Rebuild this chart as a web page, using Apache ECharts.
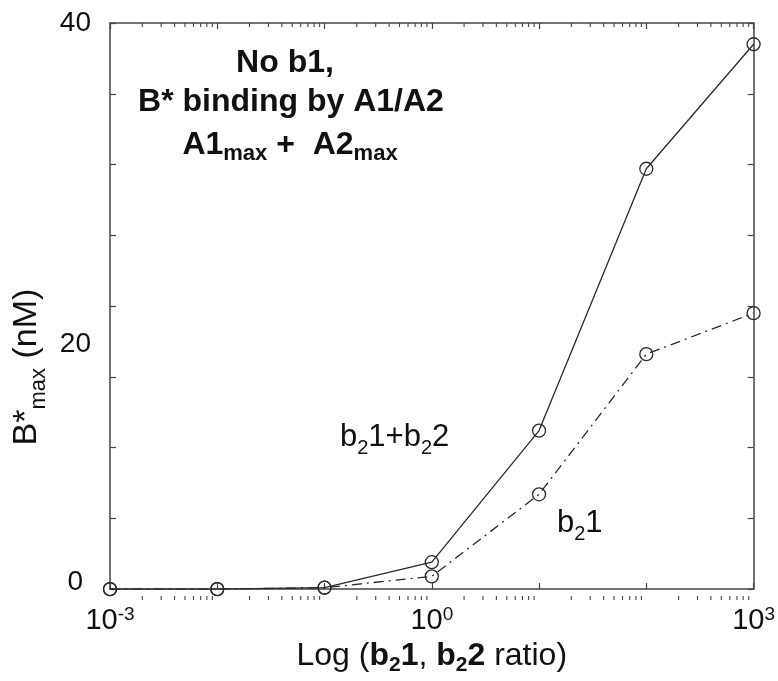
<!DOCTYPE html>
<html><head><meta charset="utf-8">
<script src="https://cdn.jsdelivr.net/npm/echarts@6/dist/echarts.min.js"></script>
<style>html,body{margin:0;padding:0;background:#fff}#c{width:778px;height:681px}</style>
</head><body><div id="c"></div>
<script>
const xValues = [0.001, 0.01, 0.1, 1, 10, 100, 1000];
const sumSeries = [0, 0, 0.1, 1.9, 11.2, 29.7, 38.5];    // b21+b22
const b21Series = [0, 0, 0.1, 0.9, 6.7, 16.6, 19.5];     // b21
const yLabelValues = [0, 20, 40];
const xLabelExponents = [-3, 0, 3];

(function(){
const FONT = '"Liberation Sans", Arial, sans-serif';
const chart = echarts.init(document.getElementById('c'), null, {renderer: 'canvas'});
const lineColor = '#2a2a2a';
const axisColor = '#444';

function pairs(ys){ return xValues.map((x,i)=>[x, ys[i]]); }

const baseX = {
  type: 'log', logBase: 10, min: 0.001, max: 1000, splitNumber: 6,
  axisLine: {show: true, onZero: false, lineStyle: {color: axisColor, width: 1.5}},
  axisTick: {show: true, inside: true, length: 6, lineStyle: {color: axisColor, width: 1.2}},
  splitLine: {show: false},
};
const baseY = {
  type: 'value', min: 0, max: 40, interval: 5,
  axisLine: {show: true, onZero: false, lineStyle: {color: axisColor, width: 1.5}},
  axisTick: {show: true, inside: true, length: 6, lineStyle: {color: axisColor, width: 1.2}},
  splitLine: {show: false},
};

const option = {
  backgroundColor: '#fff',
  animation: false,
  grid: {left: 110, right: 20, top: 23, bottom: 81, containLabel: false},
  xAxis: [
    Object.assign({}, baseX, {
      position: 'bottom',
      axisLabel: {
        show: true, margin: 16, fontFamily: FONT, color: '#111',
        formatter: v => {
          const e = Math.round(Math.log10(v));
          return xLabelExponents.includes(e) ? '{b|10}{s|' + e + '}' : '';
        },
        rich: {
          b: {fontSize: 29, fontFamily: FONT, color: '#111', lineHeight: 30, verticalAlign: 'bottom'},
          s: {fontSize: 19, fontFamily: FONT, color: '#111', lineHeight: 30, verticalAlign: 'top'}
        }
      },
      name: '{n|Log (}{bb|b}{sub|2}{bb|1}{n|, }{bb|b}{sub|2}{bb|2}{n| ratio)}',
      nameLocation: 'middle', nameGap: 64,
      nameTextStyle: {
        verticalAlign: 'middle',
        rich: {
          n: {fontSize: 32, fontFamily: FONT, color: '#111', lineHeight: 36, verticalAlign: 'top'},
          bb: {fontSize: 32, fontFamily: FONT, fontWeight: 'bold', color: '#111', lineHeight: 36, verticalAlign: 'top'},
          sub: {fontSize: 21, fontFamily: FONT, fontWeight: 'bold', color: '#111', lineHeight: 36, verticalAlign: 'bottom'}
        }
      }
    }),
    Object.assign({}, baseX, {position: 'top', axisLabel: {show: false}})
  ],
  yAxis: [
    Object.assign({}, baseY, {
      position: 'left',
      axisLabel: {
        show: true, margin: 19, fontSize: 28, fontFamily: FONT, color: '#111',
        formatter: v => {
          if (!yLabelValues.includes(v)) return '';
          if (v === 20) return '{low|20}';
          if (v === 0) return '{zero|0}';
          return String(v);
        },
        rich: {
          low: {fontSize: 28, fontFamily: FONT, color: '#111', padding: [76, 0, 0, 0]},
          zero: {fontSize: 28, fontFamily: FONT, color: '#111', padding: [0, 8, 14, 0]}
        }
      }
    }),
    Object.assign({}, baseY, {position: 'right', axisLabel: {show: false}})
  ],
  series: [
    {
      name: 'b21+b22', type: 'line', xAxisIndex: 0, yAxisIndex: 0,
      data: pairs(sumSeries),
      symbol: 'circle', symbolSize: 13,
      itemStyle: {color: 'rgba(0,0,0,0)', borderColor: lineColor, borderWidth: 1.3},
      lineStyle: {color: lineColor, width: 1.3, type: 'solid'},
      z: 3
    },
    {
      name: 'b21', type: 'line', xAxisIndex: 0, yAxisIndex: 0,
      data: pairs(b21Series),
      symbol: 'circle', symbolSize: 13,
      itemStyle: {color: 'rgba(0,0,0,0)', borderColor: lineColor, borderWidth: 1.3},
      lineStyle: {color: lineColor, width: 1.3, type: [10, 5, 2, 5]},
      z: 3
    }
  ]
};
chart.setOption(option);

const minorTicks = [];
const gTop = 23, gBottom = 681 - 81;
for (let e = -3; e < 3; e++) {
  for (let m = 2; m <= 9; m++) {
    const v = m * Math.pow(10, e);
    const px = chart.convertToPixel({xAxisIndex: 0}, v);
    minorTicks.push({type: 'line', shape: {x1: px, y1: gBottom, x2: px, y2: gBottom - 4},
      style: {stroke: axisColor, lineWidth: 1.1}, silent: true});
    minorTicks.push({type: 'line', shape: {x1: px, y1: gTop, x2: px, y2: gTop + 4},
      style: {stroke: axisColor, lineWidth: 1.1}, silent: true});
  }
}

const titleRich = {
  t: {fontSize: 32, fontWeight: 'bold', fontFamily: FONT, fill: '#111', lineHeight: 36, verticalAlign: 'top'},
  ts: {fontSize: 22, fontWeight: 'bold', fontFamily: FONT, fill: '#111', lineHeight: 36, verticalAlign: 'bottom'}
};
const annRich = {
  a: {fontSize: 31, fontFamily: FONT, fill: '#111', lineHeight: 36, verticalAlign: 'top'},
  as: {fontSize: 20, fontFamily: FONT, fill: '#111', lineHeight: 36, verticalAlign: 'bottom'}
};
const yTitleRich = {
  y: {fontSize: 34, fontFamily: FONT, fill: '#111', lineHeight: 40, verticalAlign: 'top'},
  ys: {fontSize: 22, fontFamily: FONT, fill: '#111', lineHeight: 40, verticalAlign: 'bottom'}
};

const annotations = [
  {type: 'text', x: 285, y: 65, z: 10, style: {text: '{t|No b1,}', rich: titleRich, align: 'center', verticalAlign: 'middle'}},
  {type: 'text', x: 291, y: 104, z: 10, style: {text: '{t|B* binding by A1/A2}', rich: titleRich, align: 'center', verticalAlign: 'middle'}},
  {type: 'text', x: 290, y: 147, z: 10, style: {text: '{t|A1}{ts|max}{t| +  A2}{ts|max}', rich: titleRich, align: 'center', verticalAlign: 'middle'}},
  {type: 'text', x: 340, y: 440, z: 10, style: {text: '{a|b}{as|2}{a|1+b}{as|2}{a|2}', rich: annRich, align: 'left', verticalAlign: 'middle'}},
  {type: 'text', x: 557, y: 526, z: 10, style: {text: '{a|b}{as|2}{a|1}', rich: annRich, align: 'left', verticalAlign: 'middle'}},
  {type: 'text', x: 30, y: 367, rotation: Math.PI / 2, z: 10, style: {text: '{y|B*}{ys|max}{y| (nM)}', rich: yTitleRich, align: 'center', verticalAlign: 'middle'}}
];

chart.setOption({graphic: minorTicks.concat(annotations)});
})();
</script>
</body></html>
